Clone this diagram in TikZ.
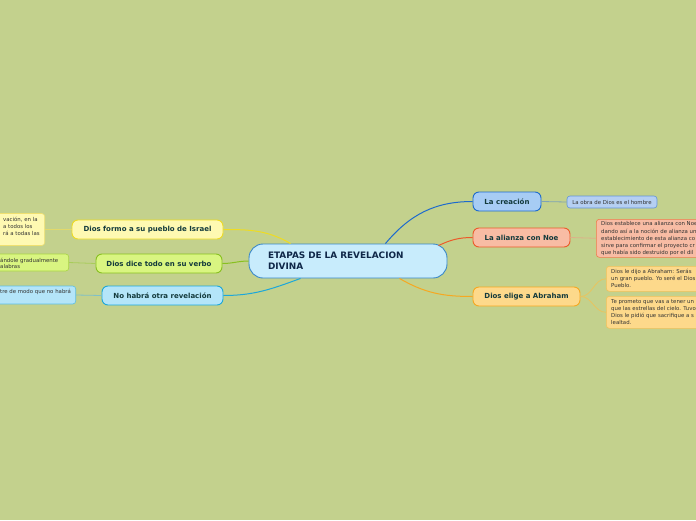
\documentclass[tikz,border=0pt]{standalone}
\usepackage{fontspec}
\setmainfont{DejaVu Sans}
\definecolor{bg}{HTML}{C3D18D}
\definecolor{ntext}{HTML}{133A3C}
\definecolor{ctext}{HTML}{0F2748}
\definecolor{cfill}{HTML}{C8ECFC}
\definecolor{cdraw}{HTML}{3A88C8}
\definecolor{crefill}{HTML}{A7CCF4}
\definecolor{credraw}{HTML}{1D6ACD}
\definecolor{crenfill}{HTML}{B5CFF2}
\definecolor{crendraw}{HTML}{6193D8}
\definecolor{crelink}{HTML}{7FA3B4}
\definecolor{noefill}{HTML}{F8BCA4}
\definecolor{noedraw}{HTML}{EC5A2A}
\definecolor{noendraw}{HTML}{EE7B4C}
\definecolor{noelink}{HTML}{DDB088}
\definecolor{abrfill}{HTML}{FDD98B}
\definecolor{abrdraw}{HTML}{F6A821}
\definecolor{abrndraw}{HTML}{F1C15A}
\definecolor{abrlink}{HTML}{E9C45E}
\definecolor{isrfill}{HTML}{FEF9B2}
\definecolor{isrdraw}{HTML}{EFDC22}
\definecolor{isrndraw}{HTML}{EFE070}
\definecolor{isrlink}{HTML}{E2D96A}
\definecolor{verfill}{HTML}{D9F581}
\definecolor{verdraw}{HTML}{88C020}
\definecolor{verndraw}{HTML}{A9D544}
\definecolor{verlink}{HTML}{A8CC5A}
\definecolor{nohfill}{HTML}{B4E5F9}
\definecolor{nohdraw}{HTML}{1CA7DA}
\definecolor{nohndraw}{HTML}{5DBEE4}
\definecolor{nohlink}{HTML}{7FC0C8}
\tikzset{
  mainnode/.style={draw, line width=0.9pt, rounded corners=6pt, minimum height=19pt,
    inner sep=0pt, text=ntext, font=\bfseries\fontsize{7}{8}\selectfont},
  notebox/.style={draw, line width=0.6pt, rounded corners=3pt, inner sep=0pt},
  notetext/.style={inner sep=0pt, align=left, text=black!80, font=\fontsize{5.4}{7.2}\selectfont},
  conn/.style={line width=1pt},
  nconn/.style={line width=0.8pt}
}
\begin{document}
\begin{tikzpicture}[x=1pt,y=-1pt]
\fill[bg] (0,0) rectangle (696,520);
\useasboundingbox (0,0) rectangle (696,520);
\clip (0,0) rectangle (696,520);

% central
\node[draw=cdraw, fill=cfill, line width=0.9pt, rounded corners=14pt, minimum width=198pt,
  minimum height=34pt, inner xsep=19pt, inner ysep=0pt, text width=160pt, align=left,
  text=ctext, font=\bfseries\fontsize{8.9}{11}\selectfont] (c) at (348,261)
  {ETAPAS DE LA REVELACION\\DIVINA};

% right main nodes
\node[mainnode, draw=credraw, fill=crefill, minimum width=68pt] (cre) at (507,201.5) {La creación};
\node[mainnode, draw=noedraw, fill=noefill, minimum width=97pt] (noe) at (521.5,237.5) {La alianza con Noe};
\node[mainnode, draw=abrdraw, fill=abrfill, minimum width=107pt] (abr) at (526.5,296.5) {Dios elige a Abraham};

% left main nodes
\node[mainnode, draw=isrdraw, fill=isrfill, minimum width=151pt] (isr) at (147.5,229.5) {Dios formo a su pueblo de Israel};
\node[mainnode, draw=verdraw, fill=verfill, minimum width=126pt] (ver) at (159,263.5) {Dios dice todo en su verbo};
\node[mainnode, draw=nohdraw, fill=nohfill, minimum width=121pt] (noh) at (162.5,295.5) {No habrá otra revelación};

% connectors from centre
\draw[conn, credraw] ([xshift=-62pt]c.north east) to[out=50, in=180] (cre.west);
\draw[conn, noedraw] ([xshift=-9pt, yshift=-2pt]c.north east) to[out=25, in=180] (noe.west);
\draw[conn, abrdraw] ([xshift=-48pt]c.south east) to[out=-30, in=180] (abr.west);
\draw[conn, isrdraw] ([xshift=42pt]c.north west) to[out=150, in=0] (isr.east);
\draw[conn, verdraw] (c.west) to[out=180, in=0] (ver.east);
\draw[conn, nohdraw] ([xshift=52pt]c.south west) to[out=-160, in=0] (noh.east);

% right notes
\node[notebox, draw=crendraw, fill=crenfill, minimum width=90pt, minimum height=12pt,
  font=\fontsize{5.4}{6}\selectfont, text=black!80] (crn) at (612,202) {La obra de Dios es el hombre};
\node[notebox, draw=noendraw, fill=noefill, minimum width=130pt, minimum height=38pt, anchor=north west] (noen) at (596,219) {};
\node[notetext, anchor=north west] at (601,221.5) {Dios establece una alianza con Noe\\dando así a la noción de alianza un\\establecimiento de esta alianza co\\sirve para confirmar el proyecto cr\\que había sido destruido por el dil};
\node[notebox, draw=abrndraw, fill=abrfill, minimum width=130pt, minimum height=25pt, anchor=north west] (abn1) at (606,266) {};
\node[notetext, anchor=north west] at (611,268.5) {Dios le dijo a Abraham: Serás\\un gran pueblo. Yo seré el Dios\\Pueblo.};
\node[notebox, draw=abrndraw, fill=abrfill, minimum width=130pt, minimum height=32pt, anchor=north west] (abn2) at (606,296) {};
\node[notetext, anchor=north west] at (611,299) {Te prometo que vas a tener un\\que las estrellas del cielo. Tuvo\\Dios le pidió que sacrifique a s\\lealtad.};

% left notes
\node[notebox, draw=isrndraw, fill=isrfill, minimum width=70pt, minimum height=32pt, anchor=east] (isn) at (45,229.5) {};
\node[notetext, anchor=north west] at (3,216.5) {vación, en la\\a todos los\\rá a todas las};
\node[notebox, draw=verndraw, fill=verfill, minimum width=90pt, minimum height=17pt, anchor=east] (vern) at (69,262.5) {};
\node[notetext, anchor=north west, font=\fontsize{5.4}{6.2}\selectfont] at (0,257.5) {ándole gradualmente\\alabras};
\node[notebox, draw=nohndraw, fill=nohfill, minimum width=90pt, minimum height=18pt, anchor=east] (nohn) at (76,295) {};
\node[notetext, anchor=north west] at (0,289) {tre de modo que no habrá};

% note connectors
\draw[nconn, crelink] (cre.east) -- (crn.west);
\draw[nconn, noelink] (noe.east) -- (noen.west);
\draw[nconn, abrlink] (abr.east) to[out=0, in=180] (abn1.west);
\draw[nconn, abrlink] (abr.east) to[out=0, in=180] (abn2.west);
\draw[nconn, isrlink] (isr.west) -- (isn.east);
\draw[nconn, verlink] (ver.west) -- (vern.east);
\draw[nconn, nohlink] (noh.west) -- (nohn.east);
\end{tikzpicture}
\end{document}
